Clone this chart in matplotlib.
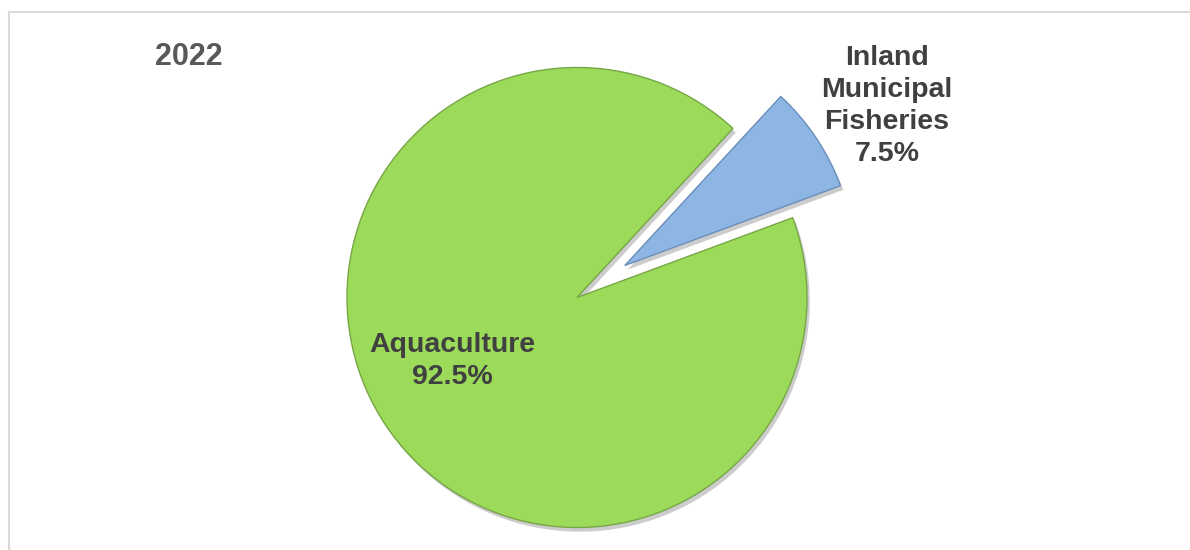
import matplotlib.pyplot as plt
import matplotlib.patheffects as pe
from matplotlib.patches import Rectangle

# Data
labels = ["Aquaculture", "Inland\nMunicipal\nFisheries"]
shares = [92.5, 7.5]
colors = ["#9CDB5A", "#8EB6E5"]
edges = ["#76A645", "#6A8EBA"]
explode = [0, 0.25]
year = "2022"

W, H = 1190, 550
R = 230.0           # pie radius in pixels
cx, cy = 577, 297.5  # pie centre in pixels (from top)

plt.rcParams["font.family"] = ["Liberation Sans", "DejaVu Sans"]

fig = plt.figure(figsize=(W / 100, H / 100), dpi=100)
fig.patch.set_facecolor("white")
ax = fig.add_axes([0, 0, 1, 1])

wedges, _ = ax.pie(
    shares,
    colors=colors,
    explode=explode,
    startangle=47.3,
    counterclock=True,
    radius=1.0,
    wedgeprops=dict(linewidth=1.0),
)
for w, ec in zip(wedges, edges):
    w.set_edgecolor(ec)
    w.set_path_effects([
        pe.SimplePatchShadow(offset=(2, -3), shadow_rgbFace="#000000", alpha=0.2),
        pe.Normal(),
    ])

ax.set_xlim(-cx / R, (W - cx) / R)
ax.set_ylim(-(H - cy) / R, cy / R)
ax.set_aspect("equal", adjustable="box")
ax.axis("off")


def px(x, y):
    return x / W, 1 - y / H


# labels
txt_kw = dict(fontsize=20.5, fontweight="bold", color="#404040",
              ha="center", va="center", linespacing=1.31)
fig.text(*px(452, 361), f"{labels[0]}\n{shares[0]}%", **txt_kw)
fig.text(*px(887, 106), f"{labels[1]}\n{shares[1]}%", **txt_kw)

fig.text(*px(189, 57), year, fontsize=22, fontweight="bold", color="#595959",
         ha="center", va="center")

# chart area border
fig.patches.append(Rectangle(px(8.5, 560), 1.2, (560 - 11.5) / H,
                             transform=fig.transFigure, fill=False,
                             edgecolor="#D9D9D9", linewidth=1.5))

fig.savefig("out.png", dpi=100, facecolor="white")
